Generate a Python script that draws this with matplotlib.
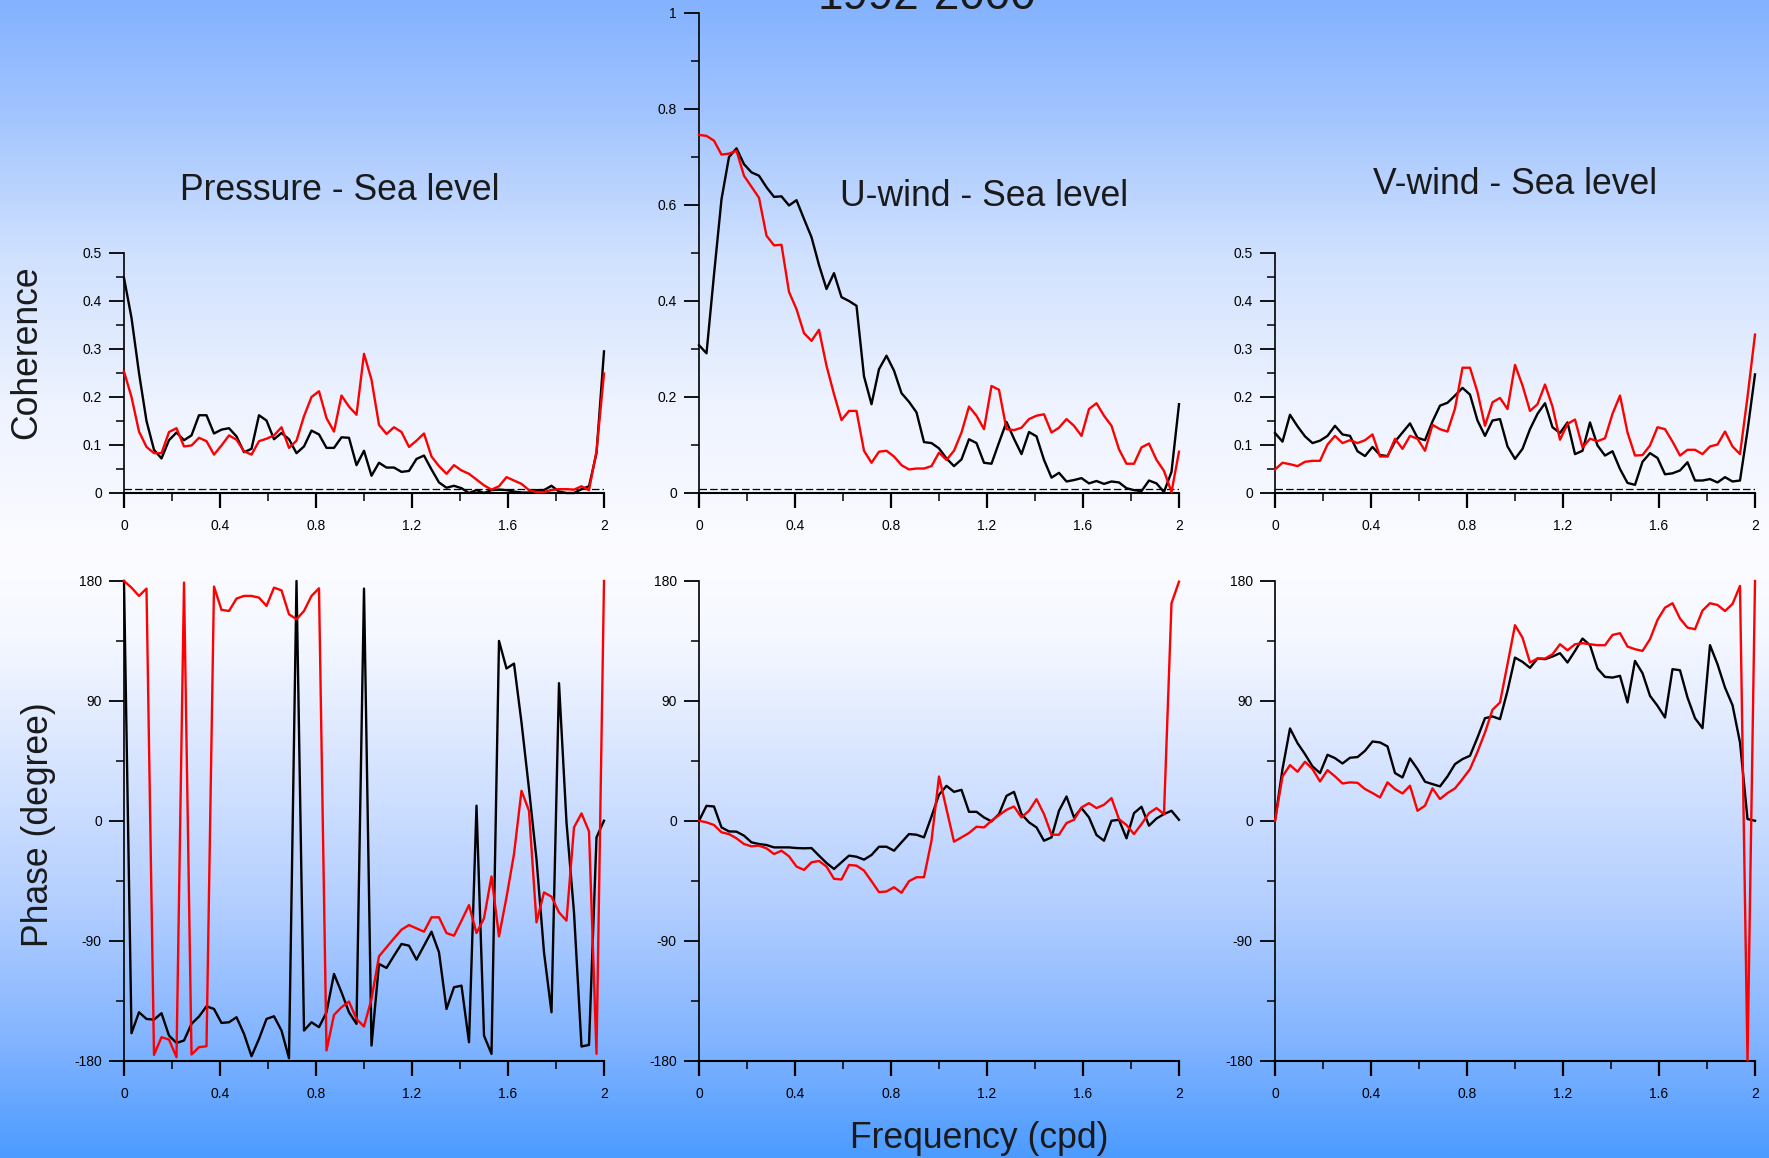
import matplotlib
matplotlib.use("Agg")
import matplotlib.pyplot as plt
import matplotlib.ticker as ticker
import numpy as np

plt.rcParams.update({
    "font.family": ["Liberation Sans", "DejaVu Sans"],
    "axes.unicode_minus": False,
})

# frequency grid (cpd), 65 estimates from 0 to 2
freq = np.linspace(0, 2, 65)

# ---- coherence ----
coh_pres_black = [0.448, 0.365, 0.25, 0.15, 0.09, 0.072, 0.11, 0.126, 0.11, 0.12,
                  0.162, 0.162, 0.124, 0.132, 0.135, 0.118, 0.085, 0.092, 0.162, 0.151,
                  0.112, 0.125, 0.112, 0.083, 0.097, 0.13, 0.122, 0.094, 0.094, 0.116,
                  0.115, 0.058, 0.088, 0.036, 0.063, 0.053, 0.053, 0.044, 0.046, 0.071,
                  0.078, 0.049, 0.022, 0.011, 0.015, 0.01, 0.0, 0.006, 0.0, 0.006,
                  0.007, 0.006, 0.003, 0.001, 0.001, 0.006, 0.006, 0.015, 0.003, 0.0,
                  0.0, 0.008, 0.014, 0.083, 0.295]
coh_pres_red = [0.253, 0.2, 0.128, 0.096, 0.083, 0.083, 0.127, 0.135, 0.097, 0.099,
                0.115, 0.108, 0.08, 0.099, 0.12, 0.111, 0.087, 0.08, 0.108, 0.113,
                0.12, 0.137, 0.094, 0.109, 0.16, 0.2, 0.212, 0.156, 0.128, 0.203,
                0.18, 0.163, 0.29, 0.236, 0.142, 0.123, 0.137, 0.127, 0.096, 0.109,
                0.124, 0.076, 0.056, 0.04, 0.058, 0.047, 0.04, 0.028, 0.016, 0.007,
                0.014, 0.033, 0.026, 0.019, 0.006, 0.002, 0.002, 0.006, 0.008, 0.008,
                0.007, 0.014, 0.006, 0.087, 0.249]

coh_uwnd_black = [0.308, 0.291, 0.455, 0.612, 0.70, 0.718, 0.685, 0.668, 0.661, 0.637,
                  0.617, 0.618, 0.599, 0.61, 0.571, 0.533, 0.475, 0.425, 0.458, 0.408,
                  0.40, 0.39, 0.243, 0.185, 0.258, 0.286, 0.255, 0.208, 0.19, 0.168,
                  0.106, 0.104, 0.093, 0.072, 0.056, 0.07, 0.112, 0.104, 0.063, 0.061,
                  0.105, 0.148, 0.113, 0.081, 0.127, 0.118, 0.069, 0.032, 0.042, 0.024,
                  0.027, 0.031, 0.02, 0.025, 0.019, 0.024, 0.022, 0.01, 0.006, 0.004,
                  0.026, 0.02, 0.002, 0.044, 0.185]
coh_uwnd_red = [0.746, 0.744, 0.734, 0.705, 0.707, 0.713, 0.661, 0.638, 0.615, 0.536,
                0.516, 0.517, 0.419, 0.383, 0.333, 0.317, 0.34, 0.265, 0.206, 0.152,
                0.171, 0.171, 0.088, 0.063, 0.086, 0.088, 0.076, 0.058, 0.049, 0.051,
                0.051, 0.056, 0.084, 0.069, 0.088, 0.126, 0.18, 0.161, 0.133, 0.223,
                0.215, 0.133, 0.131, 0.136, 0.154, 0.161, 0.164, 0.126, 0.136, 0.154,
                0.14, 0.119, 0.175, 0.187, 0.161, 0.14, 0.091, 0.061, 0.061, 0.095,
                0.103, 0.069, 0.046, 0.002, 0.086]

coh_vwnd_black = [0.125, 0.107, 0.163, 0.139, 0.118, 0.104, 0.109, 0.119, 0.14, 0.122,
                  0.119, 0.087, 0.077, 0.096, 0.079, 0.077, 0.107, 0.126, 0.145, 0.115,
                  0.11, 0.149, 0.182, 0.188, 0.203, 0.219, 0.205, 0.151, 0.119, 0.151,
                  0.154, 0.097, 0.071, 0.092, 0.133, 0.165, 0.187, 0.137, 0.125, 0.147,
                  0.081, 0.088, 0.147, 0.099, 0.078, 0.087, 0.05, 0.021, 0.017, 0.065,
                  0.083, 0.073, 0.039, 0.041, 0.047, 0.064, 0.026, 0.026, 0.029, 0.022,
                  0.033, 0.024, 0.026, 0.13, 0.247]
coh_vwnd_red = [0.049, 0.063, 0.06, 0.056, 0.065, 0.067, 0.067, 0.101, 0.119, 0.104,
                0.11, 0.104, 0.11, 0.122, 0.076, 0.076, 0.113, 0.092, 0.119, 0.113,
                0.088, 0.142, 0.133, 0.128, 0.176, 0.261, 0.261, 0.21, 0.14, 0.189,
                0.198, 0.175, 0.267, 0.224, 0.171, 0.185, 0.226, 0.18, 0.111, 0.144,
                0.153, 0.095, 0.113, 0.108, 0.114, 0.165, 0.203, 0.126, 0.078, 0.079,
                0.099, 0.137, 0.133, 0.107, 0.078, 0.09, 0.09, 0.081, 0.097, 0.101,
                0.128, 0.097, 0.081, 0.2, 0.33]

# ---- phase (degree) ----
ph_pres_black = [180, -159.5, -143.8, -148.8, -149.3, -144.5, -161.3, -166.8, -165, -152.5,
                 -147, -139.3, -141.3, -151.8, -151.3, -147.5, -160, -176.8, -163.8, -148.8,
                 -146.8, -157.5, -178.3, 180, -157.5, -151.3, -155, -143.8, -115, -128.8,
                 -143.8, -152.5, 174.3, -168.8, -107.5, -110.5, -101.3, -92.5, -93.8, -104.3,
                 -93.8, -83.3, -98.8, -141.3, -125, -123.8, -166.3, 11.3, -161.3, -175,
                 135, 114.3, 118, 73.8, 23.8, -28.8, -98.8, -143.8, 103.3, -1.3,
                 -68.8, -169.5, -168.3, -12.5, 0]
ph_pres_red = [180, 175, 168.8, 174.3, -175.8, -162.5, -164.3, -177.5, 178.8, -175.5,
               -170, -169.3, 175.8, 158.3, 157.5, 166.8, 168.8, 168.8, 167.5, 161.3,
               175, 173, 155, 151.3, 157.5, 168.8, 174.5, -172.5, -145.8, -140,
               -135.8, -148.8, -154.5, -133.8, -101.8, -95, -88.3, -81.8, -78.3, -80.8,
               -83.3, -72.5, -72.5, -84.3, -86.3, -75, -63.3, -84.3, -73.3, -41.8,
               -86.8, -57.5, -25, 22.5, 7.5, -76.3, -53.8, -57, -68.8, -75,
               -5, 5.5, -8, -175, 180]

ph_uwnd_black = [0, 11.2, 10.7, -5, -8, -8.2, -11.2, -16.2, -17.5, -18.2,
                 -20, -20, -20, -20.5, -20.7, -20.5, -26.2, -31.7, -36.2, -31.2,
                 -26.2, -27, -29.2, -25.7, -19.5, -19.5, -22.5, -16.2, -10, -10.5,
                 -12.5, 3.2, 19.5, 26.2, 21.7, 23.2, 6.7, 6.7, 2.5, -0.5,
                 5, 18.7, 21.7, 5, -1.2, -5, -15, -12.5, 7.5, 18.2,
                 2.5, 9.5, 2.5, -10.7, -15, 0, 0.7, -13.2, 5.7, 10.5,
                 -3.7, 1.7, 5, 7.5, 0.7]
ph_uwnd_red = [0, -1.2, -3.2, -8.7, -10, -13.2, -17.5, -19.2, -18.7, -20.7,
               -25, -22.5, -26.7, -34.4, -36.9, -31.2, -30.2, -34.4, -43.6, -44.1,
               -33.2, -33.7, -37.4, -45.4, -53.6, -53.1, -49.9, -54.1, -45.4, -42.4,
               -42.4, -15, 33.2, 8.7, -15.7, -12.5, -9.2, -4.5, -5, 0,
               4.2, 8.2, 10.7, 2.5, 7.5, 16.2, 5, -10.5, -10.5, -1.7,
               0.7, 10, 13.2, 9.5, 12, 17, 1.2, -3.2, -10, -2.5,
               5.7, 9.5, 5, 163.3, 179.5]

ph_vwnd_black = [0, 38.8, 69.3, 58.3, 50, 40.8, 35.8, 49.5, 47, 43,
                 47.3, 47.8, 52.5, 59.5, 58.8, 55.8, 35.8, 32.5, 46.8, 38.8,
                 29.3, 27.5, 25.8, 33.3, 42.5, 46.3, 48.8, 62.5, 77, 78.3,
                 76.3, 97.5, 122.5, 119.3, 114.8, 121.8, 121.3, 123.3, 125.8, 118.8,
                 127.5, 136.8, 131.8, 114.3, 108, 107.5, 108.8, 88.8, 120, 110.8,
                 93.8, 86.3, 77.5, 113.8, 113, 92.5, 77, 69.5, 131.8, 117.5,
                 100, 86.8, 58.8, 1.3, 0]
ph_vwnd_red = [0, 33.3, 41.8, 36.8, 44.3, 38.8, 29.5, 38, 33.3, 28,
               28.8, 28.5, 23.8, 20.8, 17.5, 28.8, 23.8, 20.5, 26.3, 7.5,
               11.3, 24.3, 16.3, 20.8, 24.3, 31.3, 38.8, 51.8, 66.3, 83.3,
               88.8, 117.5, 146.8, 137.5, 118.8, 121.8, 121.8, 125, 132.5, 128,
               132.5, 133.3, 132.5, 131.8, 131.8, 139.5, 140.8, 130.8, 128.8, 127.5,
               136.3, 150.8, 160, 163.3, 151.8, 145, 143.8, 157.8, 163.3, 162,
               157.5, 162.75, 176.3, -180, 180]

coh_signif = 0.009

panel_titles = ["Pressure - Sea level", "U-wind - Sea level", "V-wind - Sea level"]
coh_black = [coh_pres_black, coh_uwnd_black, coh_vwnd_black]
coh_red = [coh_pres_red, coh_uwnd_red, coh_vwnd_red]
ph_black = [ph_pres_black, ph_uwnd_black, ph_vwnd_black]
ph_red = [ph_pres_red, ph_uwnd_red, ph_vwnd_red]
coh_top = [0.5, 1.0, 0.5]

W, H = 1769, 1158
fig = plt.figure(figsize=(W / 100, H / 100), dpi=100)

# background gradient: blue at top and bottom, white in the middle
stops = [(0.00, (132, 178, 255)), (0.10, (163, 197, 255)), (0.22, (208, 225, 254)),
         (0.35, (238, 243, 255)), (0.48, (252, 252, 255)), (0.55, (245, 248, 255)),
         (0.65, (218, 230, 255)), (0.78, (180, 207, 255)), (0.90, (130, 180, 255)),
         (1.00, (76, 155, 255))]
yy = np.linspace(0, 1, 400)
sp = np.array([s[0] for s in stops])
grad = np.stack([np.interp(yy, sp, [s[1][c] for s in stops]) for c in range(3)], axis=-1) / 255
bg = fig.add_axes([0, 0, 1, 1], zorder=-10)
bg.imshow(grad[:, None, :], aspect="auto", extent=[0, 1, 1, 0])
bg.set_axis_off()

lefts = [124 / W, 699 / W, 1275 / W]
width = 480 / W
top_bottom = 1 - 493 / H
bot_bottom = 1 - 1060.5 / H
px_per_unit = 480  # coherence pixels per unit
ph_height = 479.5 / H


def style_axes(ax):
    for s in ("top", "right"):
        ax.spines[s].set_visible(False)
    ax.spines["left"].set_linewidth(1.2)
    ax.spines["bottom"].set_linewidth(1.5)
    ax.set_facecolor("none")
    ax.tick_params(axis="both", which="major", direction="out", length=11, width=1.3,
                   labelsize=10, colors="black")
    ax.tick_params(axis="both", which="minor", direction="out", length=5.5, width=1.1)
    ax.tick_params(axis="x", which="major", pad=8, width=1.6)
    ax.tick_params(axis="y", which="major", pad=5)
    ax.set_xlim(0, 2)
    ax.xaxis.set_major_locator(ticker.FixedLocator([0, 0.4, 0.8, 1.2, 1.6, 2]))
    ax.xaxis.set_major_formatter(ticker.FixedFormatter(["0", "0.4", "0.8", "1.2", "1.6", "2"]))
    ax.xaxis.set_minor_locator(ticker.FixedLocator([0.2, 0.6, 1.0, 1.4, 1.8]))


for i in range(3):
    # coherence
    h = coh_top[i] * px_per_unit / H
    ax = fig.add_axes([lefts[i], top_bottom, width, h])
    style_axes(ax)
    ax.plot(freq, coh_black[i], color="black", lw=1.7, clip_on=False, zorder=3)
    ax.plot(freq, coh_red[i], color="#ff0000", lw=1.7, clip_on=False, zorder=4)
    ax.plot([0, 2], [coh_signif, coh_signif], color="black", lw=0.9,
            dashes=(6, 2.5), zorder=2)
    ax.set_ylim(0, coh_top[i])
    if coh_top[i] == 0.5:
        major = [0, 0.1, 0.2, 0.3, 0.4, 0.5]
        ax.yaxis.set_minor_locator(ticker.FixedLocator([0.05, 0.15, 0.25, 0.35, 0.45]))
    else:
        major = [0, 0.2, 0.4, 0.6, 0.8, 1.0]
        ax.yaxis.set_minor_locator(ticker.FixedLocator([0.1, 0.3, 0.5, 0.7, 0.9]))
    ax.yaxis.set_major_locator(ticker.FixedLocator(major))
    ax.yaxis.set_major_formatter(ticker.FixedFormatter(["%g" % v for v in major]))

    # phase
    ax2 = fig.add_axes([lefts[i], bot_bottom, width, ph_height])
    style_axes(ax2)
    ax2.plot(freq, ph_black[i], color="black", lw=1.7, clip_on=False, zorder=3)
    ax2.plot(freq, ph_red[i], color="#ff0000", lw=1.7, clip_on=False, zorder=4)
    ax2.set_ylim(-180, 180)
    ax2.yaxis.set_major_locator(ticker.FixedLocator([-180, -90, 0, 90, 180]))
    ax2.yaxis.set_major_formatter(ticker.FixedFormatter(["-180", "-90", "0", "90", "180"]))
    ax2.yaxis.set_minor_locator(ticker.FixedLocator([-135, -45, 45, 135]))

# panel titles
title_pos = [(340, 191), (984, 196), (1515, 185)]
for (x, y), t in zip(title_pos, panel_titles):
    fig.text(x / W, 1 - y / H, t, ha="center", va="center", fontsize=25.6, color="#1a1a1a")

# main title sits mostly above the top edge, as in the original figure
fig.text(927 / W, 1 - 9 / H, "1992-2000", ha="center", va="baseline", fontsize=33,
         color="#1a1a1a")
fig.text(27 / W, 1 - 352 / H, "Coherence", rotation=90, ha="center", va="center",
         fontsize=25.6, color="#1a1a1a")
fig.text(39 / W, 1 - 825 / H, "Phase (degree)", rotation=90, ha="center", va="center",
         fontsize=25.6, color="#1a1a1a")
fig.text(979 / W, 1 - 1139 / H, "Frequency (cpd)", ha="center", va="center",
         fontsize=25.6, color="#1a1a1a")

fig.savefig("out.png", dpi=100)
